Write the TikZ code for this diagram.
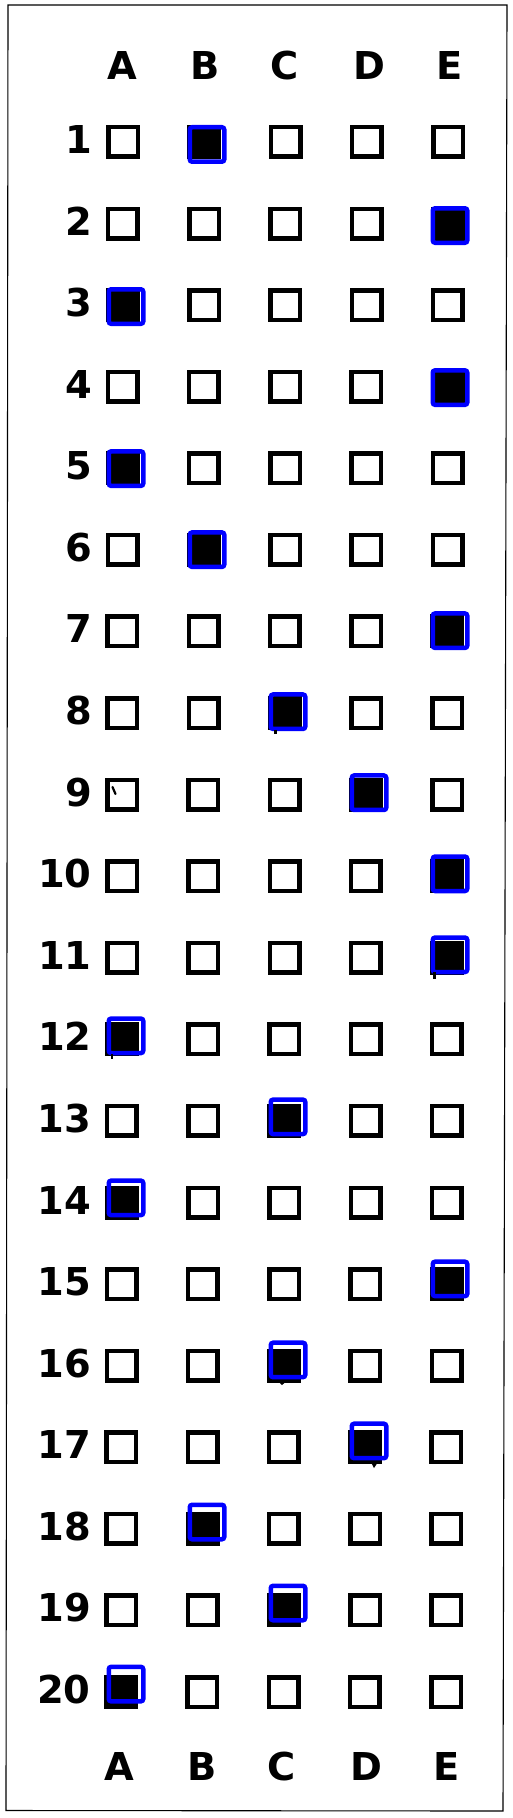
\documentclass[tikz,border=0pt]{standalone}
\usepackage{fontspec}
\setmainfont{DejaVu Sans}
\definecolor{ansblue}{RGB}{0,0,255}
\begin{document}
\begin{tikzpicture}[x=0.5pt,y=-0.5pt,
  box/.style={draw=black, line width=2.25pt, minimum size=14.75pt, inner sep=0pt, outer sep=0pt},
  bluering/.style={draw=ansblue, line width=2.25pt, minimum size=17.25pt, inner sep=0pt, outer sep=0pt, rounded corners=1.2pt},
  collab/.style={font=\fontsize{19.2}{20}\selectfont\bfseries, anchor=base, inner sep=0pt, outer sep=0pt},
  rowlab/.style={font=\fontsize{19.2}{20}\selectfont\bfseries, anchor=base east, inner sep=0pt, outer sep=0pt},
  frameline/.style={draw=black, line width=0.55pt},
  speck/.style={fill=black}
]
\useasboundingbox (0,0) rectangle (513,1818);
% outer frame of the scanned sheet
\draw[frameline] (8,5) -- (507,5) -- (503,1811) -- (6,1810.5) -- cycle;
% column headers, top and bottom
\foreach \L/\xt/\xb in {A/122.5/119.5, B/204.7/201.7, C/284.7/281.7, D/369.5/366.5, E/450/446.3} {
  \node[collab] (top\L) at (\xt,80) {\L};
  \node[collab] (bot\L) at (\xb,1780) {\L};
}
% rows of answer boxes
\foreach \n in {1,...,20} {
  \pgfmathsetmacro\yy{142+81.58*(\n-1)}
  \pgfmathsetmacro\sk{-0.095*(\n-1)}
  \node[rowlab] (num\n) at ({92.5+\sk},{\yy+11.5}) {\n};
  \foreach \c/\L in {0/A,1/B,2/C,3/D,4/E} {
    \node[box] (b\n\L) at ({123+81.25*\c+\sk},\yy) {};
  }
}
% marked answers: filled box plus blue detection ring
\foreach \n/\c/\L in {1/1/B, 2/4/E, 3/0/A, 4/4/E, 5/0/A, 6/1/B, 7/4/E, 8/2/C, 9/3/D, 10/4/E,
                      11/4/E, 12/0/A, 13/2/C, 14/0/A, 15/4/E, 16/2/C, 17/3/D, 18/1/B, 19/2/C, 20/0/A} {
  \fill[black] (b\n\L.south west) rectangle (b\n\L.north east);
  \node[bluering] (ring\n) at ({126+81*\c},{144.5+81.03*(\n-1)}) {};
}
% stray pencil marks of the scan
\draw[line width=1.1pt, line cap=round] (112.5,787) -- (115.5,794);
\fill[speck] (273.5,730) rectangle (276.5,734);
\fill[speck] (433,972) rectangle (435.5,979);
\fill[speck] (110.5,1054) rectangle (113,1059);
\fill[speck] (277,1380) -- (288,1380) -- (282,1385) -- cycle;
\fill[speck] (371,1462) -- (378,1462) -- (374,1468) -- cycle;
\end{tikzpicture}
\end{document}
